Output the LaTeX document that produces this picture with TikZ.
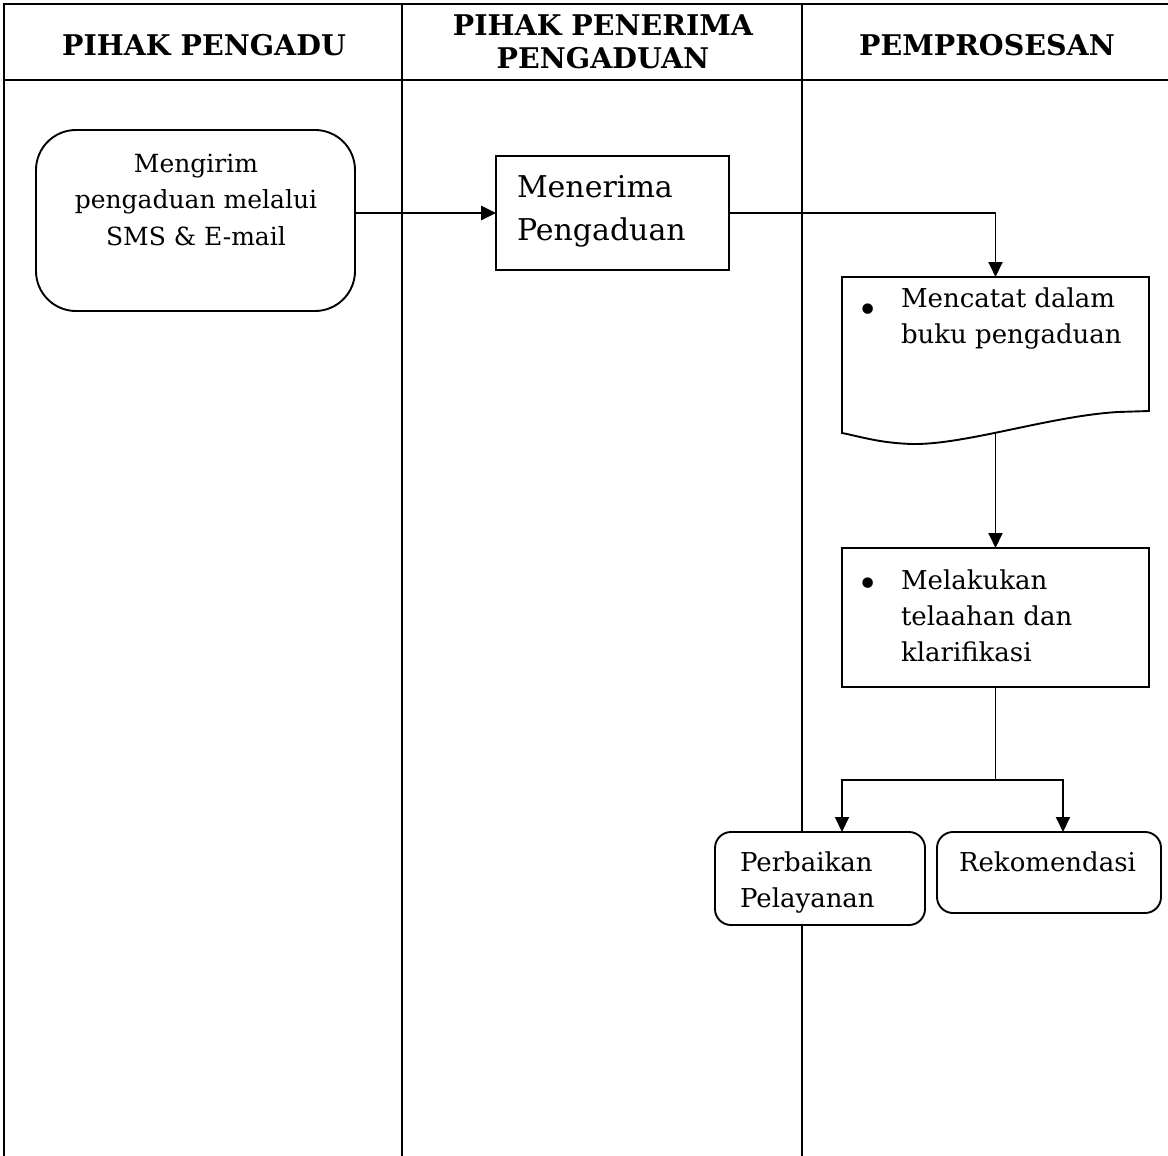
\documentclass[tikz,border=0pt]{standalone}
\usepackage{fontspec}
\setmainfont{DejaVu Serif}
\usetikzlibrary{arrows.meta}
\tikzset{
  tbl/.style={line width=2pt},
  boxline/.style={draw, line width=1.9pt, fill=white, inner sep=0pt, outer sep=0pt},
  rbox/.style={boxline, rounded corners=16pt},
  rbig/.style={boxline, rounded corners=40pt},
  conn/.style={line width=1.9pt, -{Triangle[length=15pt,width=14pt]}},
  plain/.style={line width=1.9pt},
  midtxt/.style={inner sep=0pt, outer sep=0pt, font=\fontsize{25}{36.5}\selectfont},
  txt/.style={inner sep=0pt, outer sep=0pt, font=\fontsize{26}{36}\selectfont},
  bul/.style={inner sep=0pt, outer sep=0pt, font=\fontsize{36}{36}\selectfont},
  bigtxt/.style={inner sep=0pt, outer sep=0pt, font=\fontsize{30}{43}\selectfont},
  hdr/.style={inner sep=0pt, outer sep=0pt, align=center, font=\bfseries\fontsize{28.5}{33}\selectfont},
}
\begin{document}
\begin{tikzpicture}[x=1pt,y=-1pt]
\useasboundingbox (0,0) rectangle (1168,1156);
% table
\draw[tbl] (1168,4) -- (4,4) -- (4,1156);
\draw[tbl] (4,80) -- (1168,80);
\draw[tbl] (402,4) -- (402,1156);
\draw[tbl] (802,4) -- (802,1156);
% headers
\node[hdr] (h1) at (204,45) {PIHAK PENGADU};
\node[hdr] (h2) at (603,42) {PIHAK PENERIMA\\PENGADUAN};
\node[hdr] (h3) at (987,45) {PEMPROSESAN};
% box 1
\node[rbig, minimum width=319pt, minimum height=181pt] (b1) at (195.5,220.5) {};
\node[midtxt, align=center, anchor=north] (t1) at (196,154) {Mengirim\\pengaduan melalui\\SMS \& E-mail};
% box 2
\node[boxline, minimum width=233pt, minimum height=114pt] (b2) at (612.5,213) {};
\node[bigtxt, align=left, anchor=north west] (t2) at (517,175) {Menerima\\Pengaduan};
% document shape
\node[inner sep=0pt, outer sep=0pt, minimum width=307pt, minimum height=155pt] (doc) at (995.5,354.5) {};
\draw[line width=1.9pt, fill=white] (842,277) -- (1149,277) -- (1149,411) -- (1118,412)
  .. controls (1050,416) and (965,445) .. (912,444)
  .. controls (880,443) and (862,437) .. (842,433) -- cycle;
\node[bul] (bul1) at (868,313) {\textbullet};
\node[txt, align=left, anchor=north west] (t3) at (901,288) {Mencatat dalam\\buku pengaduan};
% box 3
\node[boxline, minimum width=307pt, minimum height=139pt] (b3) at (995.5,617.5) {};
\node[bul] (bul2) at (868,587) {\textbullet};
\node[txt, align=left, anchor=north west] (t4) at (901,570) {Melakukan\\telaahan dan\\klarifikasi};
% box 4 and 5
\node[rbox, minimum width=210pt, minimum height=93pt] (b4) at (820,878.5) {};
\node[txt, align=left, anchor=north west] (t5) at (740,852) {Perbaikan\\Pelayanan};
\node[rbox, minimum width=224pt, minimum height=81pt] (b5) at (1049,872.5) {};
\node[txt, anchor=north] (t6) at (1047.5,852) {Rekomendasi};
% connectors
\draw[conn, line width=2.7pt] (b1.east |- b2.west) -- (b2.west);
\draw[conn] (b2.east) -| (doc.north);
\draw[conn] (doc.south) -- (b3.north);
\draw[plain] (b3.south) -- ++(0,93) coordinate (split);
\draw[conn] (split) -| ([xshift=22pt]b4.north);
\draw[conn] (split) -| ([xshift=14pt]b5.north);
\end{tikzpicture}
\end{document}
